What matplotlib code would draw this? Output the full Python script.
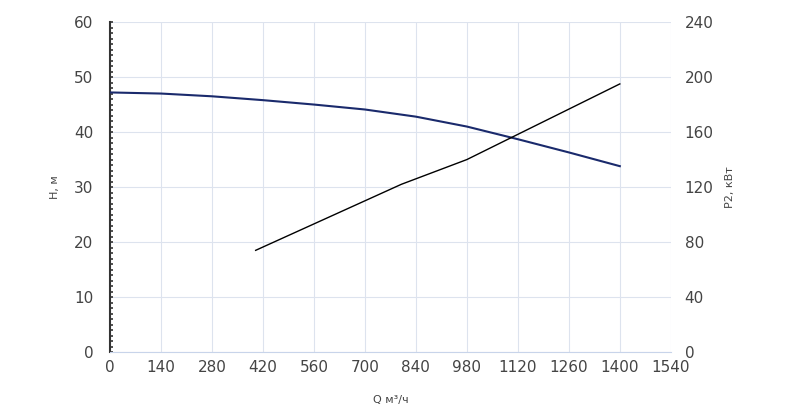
import matplotlib.pyplot as plt
from matplotlib.ticker import MultipleLocator

q_head = [0, 140, 280, 420, 560, 700, 840, 980, 1120, 1260, 1400]
head = [47.2, 47.0, 46.5, 45.8, 45.0, 44.1, 42.8, 41.0, 38.7, 36.3, 33.8]
q_power = [400, 800, 980, 1400]
power = [74, 122, 140, 195]

grey = '#444444'
fig = plt.figure(figsize=(8, 4.08), dpi=100)
ax = fig.add_axes([0.1375, 0.137, 0.701, 0.809])
ax.plot(q_head, head, color='#1a2a6c', lw=1.5, zorder=3)
ax.set_xlim(0, 1540)
ax.set_ylim(0, 60)
ax.set_xticks(range(0, 1541, 140))
ax.set_yticks(range(0, 61, 10))
ax.yaxis.set_minor_locator(MultipleLocator(1))
ax.grid(True, color='#dde3ee', lw=0.8)
for s in ['top', 'right']:
    ax.spines[s].set_visible(False)
ax.spines['left'].set_color('#333333')
ax.spines['left'].set_linewidth(1.5)
ax.spines['bottom'].set_color('#c8d4ea')
ax.tick_params(axis='y', which='both', color='#333333', length=2, width=1.2, direction='in', labelsize=11, labelcolor=grey, pad=12)
ax.tick_params(axis='x', length=0, labelsize=11, labelcolor=grey, pad=6)
ax.set_xlabel('Q м³/ч', fontsize=8, color=grey, labelpad=14)
ax.set_ylabel('H, м', fontsize=8, color=grey, labelpad=10)

ax2 = ax.twinx()
ax2.plot(q_power, power, color='black', lw=1)
ax2.set_ylim(0, 240)
ax2.set_yticks(range(0, 241, 40))
for s in ['top', 'right', 'left', 'bottom']:
    ax2.spines[s].set_visible(False)
ax2.tick_params(axis='y', length=0, labelsize=11, labelcolor=grey, pad=10)
ax2.set_ylabel('P2, кВт', fontsize=8, color=grey, labelpad=8)

fig.savefig('out.png')
